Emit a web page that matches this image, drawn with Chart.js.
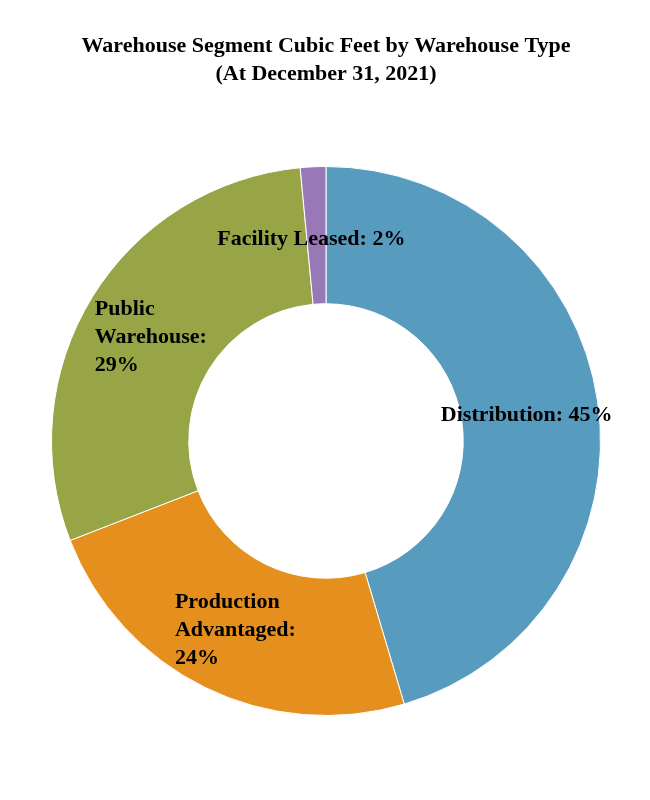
<!DOCTYPE html>
<html>
<head>
<meta charset="utf-8">
<script src="https://cdn.jsdelivr.net/npm/chart.js@4"></script>
<style>
  html, body { margin: 0; padding: 0; background: #fff; }
  #wrap { width: 650px; height: 800px; }
</style>
</head>
<body>
<div id="wrap"><canvas id="chart"></canvas></div>
<script>
const categories = ["Distribution", "Production Advantaged", "Public Warehouse", "Facility Leased"];
const labelLines = [["Distribution: 45%"], ["Production", "Advantaged:", "24%"], ["Public", "Warehouse:", "29%"], ["Facility Leased: 2%"]];
const shares = [45.4, 23.7, 29.4, 1.5];
const colors = ["#579bbf", "#e5901e", "#97a547", "#9978b7"];

// small nudges for labels that don't sit exactly on the slice centre
const labelShiftX = [-3, 0, 0, -5];

// draws the multi-line labels at each slice centre, lines left-aligned in a centred block
const sliceLabels = {
    id: "sliceLabels",
    afterDatasetsDraw(chart) {
        const ctx = chart.ctx;
        const meta = chart.getDatasetMeta(0);
        ctx.save();
        ctx.font = "bold 22px 'Liberation Serif', 'Times New Roman', serif";
        ctx.fillStyle = "#000";
        ctx.textBaseline = "middle";
        ctx.textAlign = "left";
        const lh = 28;
        meta.data.forEach((arc, i) => {
            const p = arc.getCenterPoint();
            const lines = labelLines[i];
            const w = Math.max(...lines.map(l => ctx.measureText(l).width));
            const x = p.x - w / 2 + labelShiftX[i];
            const y0 = p.y + 4 - (lines.length - 1) * lh / 2;
            lines.forEach((l, k) => ctx.fillText(l, x, y0 + k * lh));
        });
        ctx.restore();
    }
};

new Chart(document.getElementById("chart"), {
    type: "doughnut",
    data: {
        labels: categories,
        datasets: [{
            data: shares,
            backgroundColor: colors,
            borderColor: "#ffffff",
            borderWidth: 1
        }]
    },
    options: {
        responsive: true,
        maintainAspectRatio: false,
        animation: false,
        cutout: "50%",
        layout: { padding: { top: 18, bottom: 84, left: 51, right: 49 } },
        plugins: {
            legend: { display: false },
            tooltip: { enabled: false },
            title: {
                display: true,
                text: ["Warehouse Segment Cubic Feet by Warehouse Type", "(At December 31, 2021)"],
                color: "#000",
                font: { family: "'Liberation Serif', 'Times New Roman', serif", size: 22, weight: "bold", lineHeight: 1.25 },
                padding: { top: 15, bottom: 78 }
            }
        }
    },
    plugins: [sliceLabels]
});
</script>
</body>
</html>
